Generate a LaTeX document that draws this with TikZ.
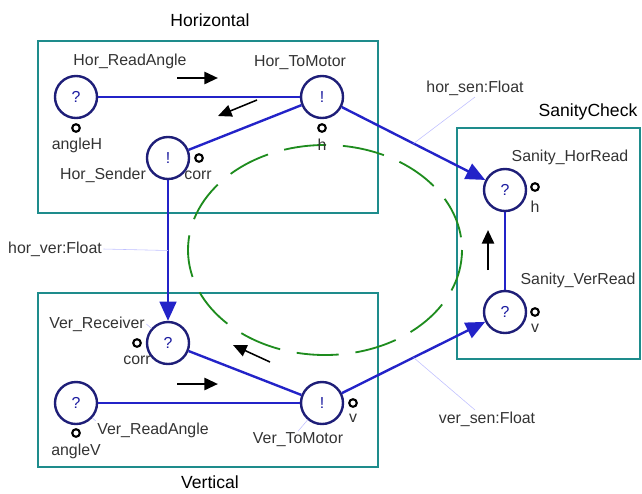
\documentclass[tikz,border=0pt]{standalone}
\usepackage{fontspec}
\setmainfont{Liberation Sans}
\usetikzlibrary{arrows.meta,calc}
\definecolor{boxteal}  {HTML}{1E8C8C}
\definecolor{wireblue} {HTML}{2323C8}
\definecolor{ringnavy} {HTML}{1E1E78}
\definecolor{loopgreen}{HTML}{1E8C1E}
\definecolor{labelgray}{HTML}{333333}

\begin{document}
\begin{tikzpicture}[x=0.025cm,y=-0.025cm,
  font=\fontsize{11.3}{13}\selectfont,
  comp/.style={draw=boxteal,line width=1.5pt},
  title/.style={font=\fontsize{12.5}{14}\selectfont},
  proc/.style={circle,draw=ringnavy,line width=1.7pt,fill=white,minimum size=1.05cm,
               inner sep=0pt,text=wireblue!80!black},
  port/.style={circle,draw=black,line width=1.5pt,minimum size=0.19cm,inner sep=0pt},
  lbl/.style={text=labelgray,inner sep=1pt},
  wire/.style={draw=wireblue,line width=1.7pt},
  sig/.style={wire,-{Triangle[length=0.48cm,width=0.42cm]}},
  flow/.style={line width=1.8pt,-{Triangle[length=0.34cm,width=0.3cm]}},
  lead/.style={draw=blue!25,line width=0.4pt},
  loop/.style={draw=loopgreen,line width=1.3pt,dash pattern=on 30pt off 12pt}
]
\useasboundingbox (0,0) rectangle (642,493);

% components
\draw[comp] (38,41)   rectangle (378,213);
\draw[comp] (38,293)  rectangle (378,467);
\draw[comp] (457,128) rectangle (640,359);
\node[title] (thor) at (210,20)  {Horizontal};
\node[title] (tver) at (210,482) {Vertical};
\node[title] (tsan) at (588,112) {SanityCheck};

\draw[loop] (325,250) ellipse [x radius=137, y radius=105];

% processes
\node[proc] (hra) at (76,97)   {?};
\node[proc] (htm) at (322,97)  {!};
\node[proc] (hse) at (168,158) {!};
\node[proc] (vre) at (168,343) {?};
\node[proc] (vra) at (76,403)  {?};
\node[proc] (vtm) at (322,403) {!};
\node[proc] (shr) at (505,190) {?};
\node[proc] (svr) at (505,312) {?};

\node[lbl] (hraL) at (130,61)  {Hor\_ReadAngle};
\node[lbl] (htmL) at (300,63)  {Hor\_ToMotor};
\node[lbl] (hseL) at (103,175) {Hor\_Sender};
\node[lbl] (vreL) at (97,324)  {Ver\_Receiver};
\node[lbl] (vraL) at (153,430) {Ver\_ReadAngle};
\node[lbl] (vtmL) at (298,440) {Ver\_ToMotor};
\node[lbl] (shrL) at (570,157) {Sanity\_HorRead};
\node[lbl] (svrL) at (578,280) {Sanity\_VerRead};

% ports
\node[port] (hraP) at (76,128)  {};
\node[port] (htmP) at (322,128) {};
\node[port] (hseP) at (199,158) {};
\node[port] (vreP) at (137,343) {};
\node[port] (vraP) at (76,433)  {};
\node[port] (vtmP) at (353,403) {};
\node[port] (shrP) at (535,187) {};
\node[port] (svrP) at (535,312) {};

\node[lbl] at (77,145)  {angleH};
\node[lbl] at (322,145) {h};
\node[lbl] at (198,175) {corr};
\node[lbl] at (137,360) {corr};
\node[lbl] at (76,451)  {angleV};
\node[lbl] at (353,418) {v};
\node[lbl] at (535,207) {h};
\node[lbl] at (535,328) {v};

% channels
\draw[wire] (hra) -- (htm);
\draw[wire] (htm) -- (hse);
\draw[sig]  (htm) -- coordinate[pos=0.5] (hsAt) (shr);
\draw[sig]  (hse) -- coordinate[pos=0.5] (hvAt) (vre);
\draw[wire] (vre) -- (vtm);
\draw[wire] (vra) -- (vtm);
\draw[sig]  (vtm) -- coordinate[pos=0.5] (vsAt) (svr);
\draw[wire,line width=0.8pt] (shr) -- (svr);

\node[lbl] (hsen) at (475,88)  {hor\_sen:Float};
\node[lbl] (hver) at (55,249)  {hor\_ver:Float};
\node[lbl] (vsen) at (487,419) {ver\_sen:Float};
\draw[lead] (hsen.south) -- (hsAt);
\draw[lead] (hver.east) -- (hvAt);
\draw[lead] ($(vsen.north)+(-12,0)$) -- (vsAt);
\draw[lead] (hseL.north east) -- (hse);
\draw[lead] (vreL.east) -- (vre);
\draw[lead] (vraL.north west) -- (vra);
\draw[lead] (vtmL.north) -- (vtm);

% direction of flow
\coordinate (f1a) at (177,78);  \coordinate (f1b) at (218,78);
\coordinate (f2a) at (257,100); \coordinate (f2b) at (218,116);
\coordinate (f3a) at (177,384); \coordinate (f3b) at (218,384);
\coordinate (f4a) at (270,362); \coordinate (f4b) at (233,345);
\coordinate (f5a) at (488,270); \coordinate (f5b) at (488,230);
\draw[flow] (f1a) -- (f1b);
\draw[flow,line width=1.1pt] (f2a) -- (f2b);
\draw[flow] (f3a) -- (f3b);
\draw[flow,line width=1.1pt] (f4a) -- (f4b);
\draw[flow] (f5a) -- (f5b);
\end{tikzpicture}
\end{document}
